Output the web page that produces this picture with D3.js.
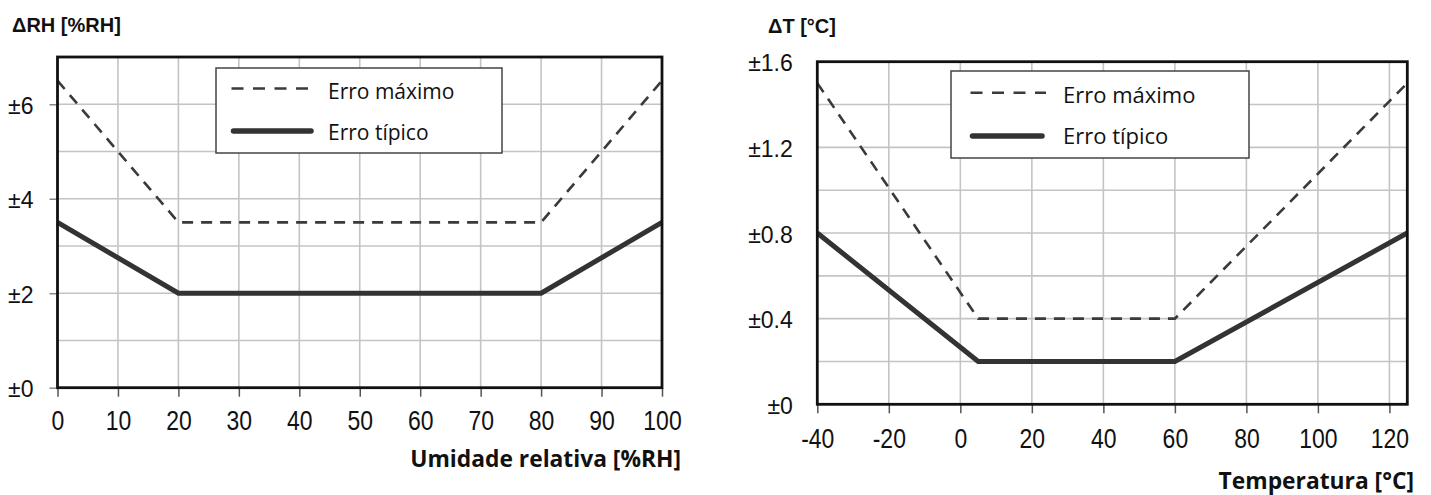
<!DOCTYPE html>
<html><head><meta charset="utf-8">
<script src="https://cdn.jsdelivr.net/npm/d3@7"></script>
<style>
body{margin:0;background:#fff;}
svg{display:block;}
</style></head>
<body>
<svg id="c" width="1431" height="495"></svg>
<script>
// ---- data ----
const rhX = [0, 20, 80, 100];
const rhMax = [6.5, 3.5, 3.5, 6.5];
const rhTyp = [3.5, 2, 2, 3.5];
const rhXTicks = [0,10,20,30,40,50,60,70,80,90,100];
const rhYTicks = [0,2,4,6];
const rhGridY = [1,2,3,4,5,6];
const rhGridX = [10,20,30,40,50,60,70,80,90];

const tX = [-40, 5, 60, 125];
const tMax = [1.5, 0.4, 0.4, 1.5];
const tTyp = [0.8, 0.2, 0.2, 0.8];
const tXTicks = [-40,-20,0,20,40,60,80,100,120];
const tYTicks = [0,0.4,0.8,1.2,1.6];
const tGridY = [0.2,0.4,0.6,0.8,1.0,1.2,1.4];
const tGridX = [-20,0,20,40,60,80,100,120];

const legendLabels = ["Erro máximo", "Erro típico"];

const svg = d3.select("#c");
const TICKFONT = "'Liberation Sans', Arial, sans-serif";
const LEGFONT = "'Open Sans', sans-serif";

function panel(cfg){
  const g = svg.append("g");
  const x = d3.scaleLinear().domain(cfg.xDomain).range(cfg.xRange);
  const y = d3.scaleLinear().domain(cfg.yDomain).range(cfg.yRange);
  const [x0,x1] = cfg.xRange, [y0,y1] = cfg.yRange;

  // grid
  g.append("g").selectAll("line").data(cfg.gridX).join("line")
    .attr("x1", d=>x(d)).attr("x2", d=>x(d)).attr("y1", y0).attr("y2", y1)
    .attr("stroke", "#c4c4c4").attr("stroke-width", 1.6);
  g.append("g").selectAll("line").data(cfg.gridY).join("line")
    .attr("y1", d=>y(d)).attr("y2", d=>y(d)).attr("x1", x0).attr("x2", x1)
    .attr("stroke", "#c4c4c4").attr("stroke-width", 1.6);

  // x axis
  const xa = g.append("g").attr("transform", `translate(0,${y0})`)
    .call(d3.axisBottom(x).tickValues(cfg.xTicks).tickSize(9).tickSizeOuter(0).tickFormat(d=>String(d)));
  xa.select(".domain").remove();
  xa.selectAll(".tick line").attr("stroke", "#555").attr("stroke-width", 1.5);
  xa.selectAll("text").attr("y", cfg.xLabelY).attr("dy", 0)
    .attr("font-family", TICKFONT).attr("font-size", 28).attr("fill", "#111")
    .attr("transform", "scale(0.82,1)");

  // y axis
  const ya = g.append("g").attr("transform", `translate(${x0},0)`)
    .call(d3.axisLeft(y).tickValues(cfg.yTicks).tickSize(cfg.yTickSize).tickPadding(cfg.yPad).tickSizeOuter(0).tickFormat(cfg.yFmt));
  ya.select(".domain").remove();
  ya.selectAll(".tick line").attr("stroke", "#888").attr("stroke-width", 1.5);
  ya.selectAll("text").attr("dy", "0.4em")
    .attr("font-family", TICKFONT).attr("font-size", 23).attr("fill", "#111");

  const line = d3.line().x(d=>x(d[0])).y(d=>y(d[1]));
  g.append("path").datum(cfg.xs.map((v,i)=>[v,cfg.max[i]]))
    .attr("d", line).attr("fill","none").attr("stroke","#3a3a3a")
    .attr("stroke-width", 2.6).attr("stroke-dasharray","11,8");
  g.append("path").datum(cfg.xs.map((v,i)=>[v,cfg.typ[i]]))
    .attr("d", line).attr("fill","none").attr("stroke","#333")
    .attr("stroke-width", 5);

  // frame
  g.append("rect").attr("x", x0).attr("y", y1).attr("width", x1-x0).attr("height", y0-y1)
    .attr("fill","none").attr("stroke","#111").attr("stroke-width", 2.8);

  // legend
  const L = cfg.legend;
  g.append("rect").attr("x", L.x).attr("y", L.y).attr("width", L.w).attr("height", L.h)
    .attr("fill","#fff").attr("stroke","#444").attr("stroke-width",1.5);
  g.append("line").attr("x1", L.sx).attr("x2", L.sx2).attr("y1", L.r1).attr("y2", L.r1)
    .attr("stroke","#3a3a3a").attr("stroke-width",2.6).attr("stroke-dasharray","12,9.5");
  g.append("line").attr("x1", L.sx+2).attr("x2", L.sx2-4).attr("y1", L.r2).attr("y2", L.r2)
    .attr("stroke","#333").attr("stroke-width",5.5).attr("stroke-linecap","round");
  g.selectAll(null).data(legendLabels).join("text")
    .attr("x", L.tx).attr("y", (d,i)=> i===0 ? L.b1 : L.b2)
    .attr("font-family", LEGFONT).attr("font-size", L.fs).attr("fill","#111")
    .text(d=>d);

  // titles
  g.append("text").attr("x", cfg.yTitle.x).attr("y", cfg.yTitle.y)
    .attr("font-family", TICKFONT).attr("font-weight","bold").attr("font-size",20).attr("fill","#111")
    .text(cfg.yTitle.text);
  g.append("text").attr("x", cfg.xTitle.x).attr("y", cfg.xTitle.y).attr("text-anchor","end")
    .attr("font-family", LEGFONT).attr("font-weight","bold").attr("font-size",22.8).attr("fill","#111")
    .text(cfg.xTitle.text);
}

panel({
  xDomain:[0,100], xRange:[57.5,662], yDomain:[0,7], yRange:[387.7,57],
  gridX: rhGridX, gridY: rhGridY, xTicks: rhXTicks, yTicks: rhYTicks,
  xLabelY: 42, yTickSize: 8, yPad: 16, yFmt: d=>"±"+d,
  xs: rhX, max: rhMax, typ: rhTyp,
  legend:{x:216,y:68,w:286,h:85,sx:231.5,sx2:315,r1:88.5,r2:131,tx:328,b1:99,b2:140,fs:21},
  yTitle:{x:12,y:32,text:"ΔRH [%RH]"},
  xTitle:{x:681,y:467,text:"Umidade relativa [%RH]"}
});

panel({
  xDomain:[-40,125], xRange:[817.3,1407.3], yDomain:[0,1.6], yRange:[404.3,61.7],
  gridX: tGridX, gridY: tGridY, xTicks: tXTicks, yTicks: tYTicks,
  xLabelY: 43.5, yTickSize: 0, yPad: 24.5, yFmt: d=> d===0 ? "±0" : "±"+d.toFixed(1),
  xs: tX, max: tMax, typ: tTyp,
  legend:{x:951,y:71,w:298,h:87,sx:970.5,sx2:1046,r1:92.7,r2:136,tx:1063,b1:103,b2:144,fs:22},
  yTitle:{x:768,y:33,text:"ΔT [°C]"},
  xTitle:{x:1414,y:489,text:"Temperatura [°C]"}
});
</script>
</body></html>
